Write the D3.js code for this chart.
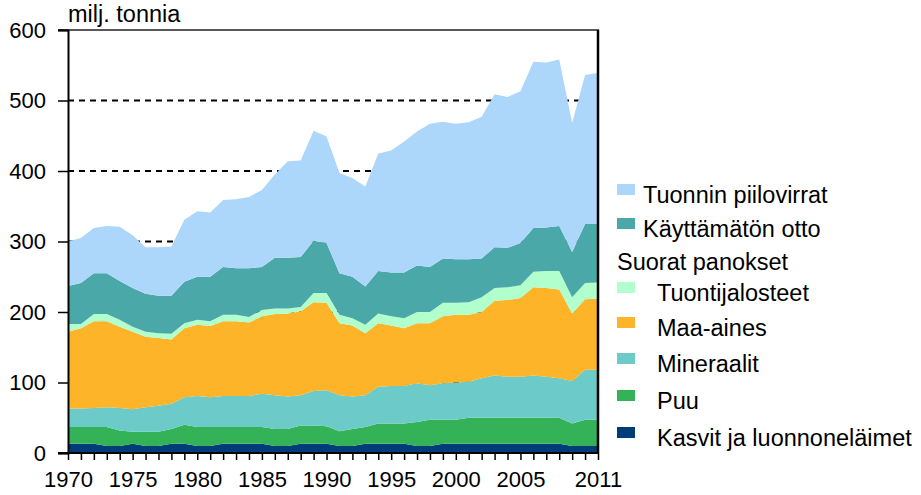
<!DOCTYPE html>
<html>
<head>
<meta charset="utf-8">
<script src="https://cdn.jsdelivr.net/npm/d3@7"></script>
<style>
  body { margin: 0; background: #fff; }
  svg { display: block; font-family: "Liberation Sans", Arial, sans-serif; }
</style>
</head>
<body>
<svg id="chart"></svg>
<script>
// years 1970-2011, million tonnes
const years = d3.range(1970, 2012);

const kasvit = [13,13,13,10,10,13,10,10,13,13, 10,10,13,13,13,13,10,10,13,13, 13,10,10,13,13,13,13,10,10,13, 13,13,13,13,13,13,13,13,13,10, 10,10];
const puu = [24,24,24,27,22,17,20,20,21,27, 27,27,24,24,24,24,24,24,26,26, 25,21,24,24,29,29,29,34,37,34, 34,37,37,37,37,37,37,37,37,32, 37,37];
const mineraalit = [26,26,27,28,32,32,35,37,36,39, 44,42,44,44,44,47,48,46,43,49, 51,51,46,45,52,53,53,55,49,52, 53,51,56,60,58,58,60,58,56,60, 71,71];
const maaAines = [109,114,123,122,115,110,100,96,91,98, 101,101,106,106,104,110,115,118,119,126, 124,102,101,88,90,86,82,85,88,95, 96,95,94,106,109,112,125,126,126,96, 100,101];
const tuontijalosteet = [11,6,10,10,10,7,7,7,8,7, 7,7,9,9,8,9,8,7,6,13, 14,12,10,12,14,13,14,16,16,19, 17,18,21,18,18,18,22,24,26,23, 23,23];
const kayttamaton = [54,58,58,58,55,55,54,53,54,59, 61,63,68,66,69,61,72,72,71,74, 71,59,59,54,60,62,65,66,64,63, 62,61,55,58,56,60,62,62,64,64, 84,83];
const tuonnin = [63,64,64,67,77,75,66,69,70,88, 93,91,95,98,101,109,118,137,137,156, 151,142,140,142,167,173,186,190,203,194, 192,194,201,217,214,215,236,234,236,183, 211,214];

const seriesKeys = ["Kasvit ja luonnoneläimet", "Puu", "Mineraalit", "Maa-aines", "Tuontijalosteet", "Käyttämätön otto", "Tuonnin piilovirrat"];
const seriesValues = [kasvit, puu, mineraalit, maaAines, tuontijalosteet, kayttamaton, tuonnin];
const colors = ["#003c78", "#33b258", "#6ccac8", "#fdb428", "#b0ffcc", "#4aa8a8", "#acd7fb"];

const yTicks = [0, 100, 200, 300, 400, 500, 600];
const xTickLabels = [1970, 1975, 1980, 1985, 1990, 1995, 2000, 2005, 2011];

// legend rows, top to bottom (null key = header text)
const legendRows = [
  { key: "Tuonnin piilovirrat", indent: false },
  { key: "Käyttämätön otto", indent: false },
  { key: null, label: "Suorat panokset" },
  { key: "Tuontijalosteet", indent: true },
  { key: "Maa-aines", indent: true },
  { key: "Mineraalit", indent: true },
  { key: "Puu", indent: true },
  { key: "Kasvit ja luonnoneläimet", indent: true },
];

const width = 921, height = 495;
const plotLeft = 68, plotRight = 598, plotTop = 30, plotBottom = 453;

const svg = d3.select("#chart").attr("width", width).attr("height", height);

const x = d3.scaleLinear().domain([1970, 2011]).range([plotLeft, plotRight]);
const y = d3.scaleLinear().domain([0, 600]).range([plotBottom, plotTop]);

// build table for the stack
const table = years.map((yr, i) => {
  const row = { year: yr };
  seriesKeys.forEach((k, j) => (row[k] = seriesValues[j][i]));
  return row;
});
const stacked = d3.stack().keys(seriesKeys)(table);
const color = d3.scaleOrdinal().domain(seriesKeys).range(colors);

// dashed gridlines behind the areas
svg.append("g")
  .selectAll("line")
  .data(yTicks.filter((d) => d > 0 && d < 600))
  .join("line")
  .attr("x1", plotLeft).attr("x2", plotRight)
  .attr("y1", (d) => y(d)).attr("y2", (d) => y(d))
  .attr("stroke", "#000")
  .attr("stroke-width", 2)
  .attr("stroke-dasharray", "6,5");

const area = d3.area()
  .x((d) => x(d.data.year))
  .y0((d) => y(d[0]))
  .y1((d) => y(d[1]));

svg.append("g")
  .selectAll("path")
  .data(stacked)
  .join("path")
  .attr("fill", (d) => color(d.key))
  .attr("d", area);

// frame
svg.append("line").attr("x1", plotLeft - 10).attr("x2", plotRight + 1).attr("y1", plotTop).attr("y2", plotTop)
  .attr("stroke", "#222").attr("stroke-width", 1.5);
svg.append("line").attr("x1", plotRight).attr("x2", plotRight).attr("y1", plotTop).attr("y2", plotBottom)
  .attr("stroke", "#000").attr("stroke-width", 2.5);

// y axis
const yAxis = svg.append("g").attr("transform", `translate(${plotLeft},0)`)
  .call(d3.axisLeft(y).tickValues(yTicks).tickSize(10).tickPadding(12));
yAxis.select(".domain").attr("stroke-width", 2);
yAxis.selectAll(".tick line").attr("stroke-width", 1.5);

// x axis
const xAxis = svg.append("g").attr("transform", `translate(0,${plotBottom})`)
  .call(d3.axisBottom(x).tickValues(years).tickSize(7).tickPadding(11)
    .tickFormat((d) => (xTickLabels.includes(d) ? d : "")));
xAxis.select(".domain").attr("d", `M${plotLeft - 10},0H${plotRight + 1}`).attr("stroke-width", 2);
xAxis.selectAll(".tick line").attr("stroke-width", 1.5);

svg.selectAll(".tick text").attr("font-size", 22).attr("fill", "#000")
  .attr("font-family", "'Liberation Sans', Arial, sans-serif");

// unit label
svg.append("text").attr("x", plotLeft).attr("y", 22)
  .attr("font-size", 23.5).text("milj. tonnia");

// legend
const baselines = [203, 237, 270, 301, 336, 372, 409, 446];
const legend = svg.append("g").attr("font-size", 23.5);
legendRows.forEach((r, i) => {
  const by = baselines[i];
  if (r.key === null) {
    legend.append("text").attr("x", 617).attr("y", by).text(r.label);
    return;
  }
  legend.append("rect")
    .attr("x", 617).attr("y", by - 19).attr("width", 18).attr("height", 11)
    .attr("fill", color(r.key));
  legend.append("text")
    .attr("x", r.indent ? 657 : 643).attr("y", by)
    .text(r.key);
});
</script>
</body>
</html>
